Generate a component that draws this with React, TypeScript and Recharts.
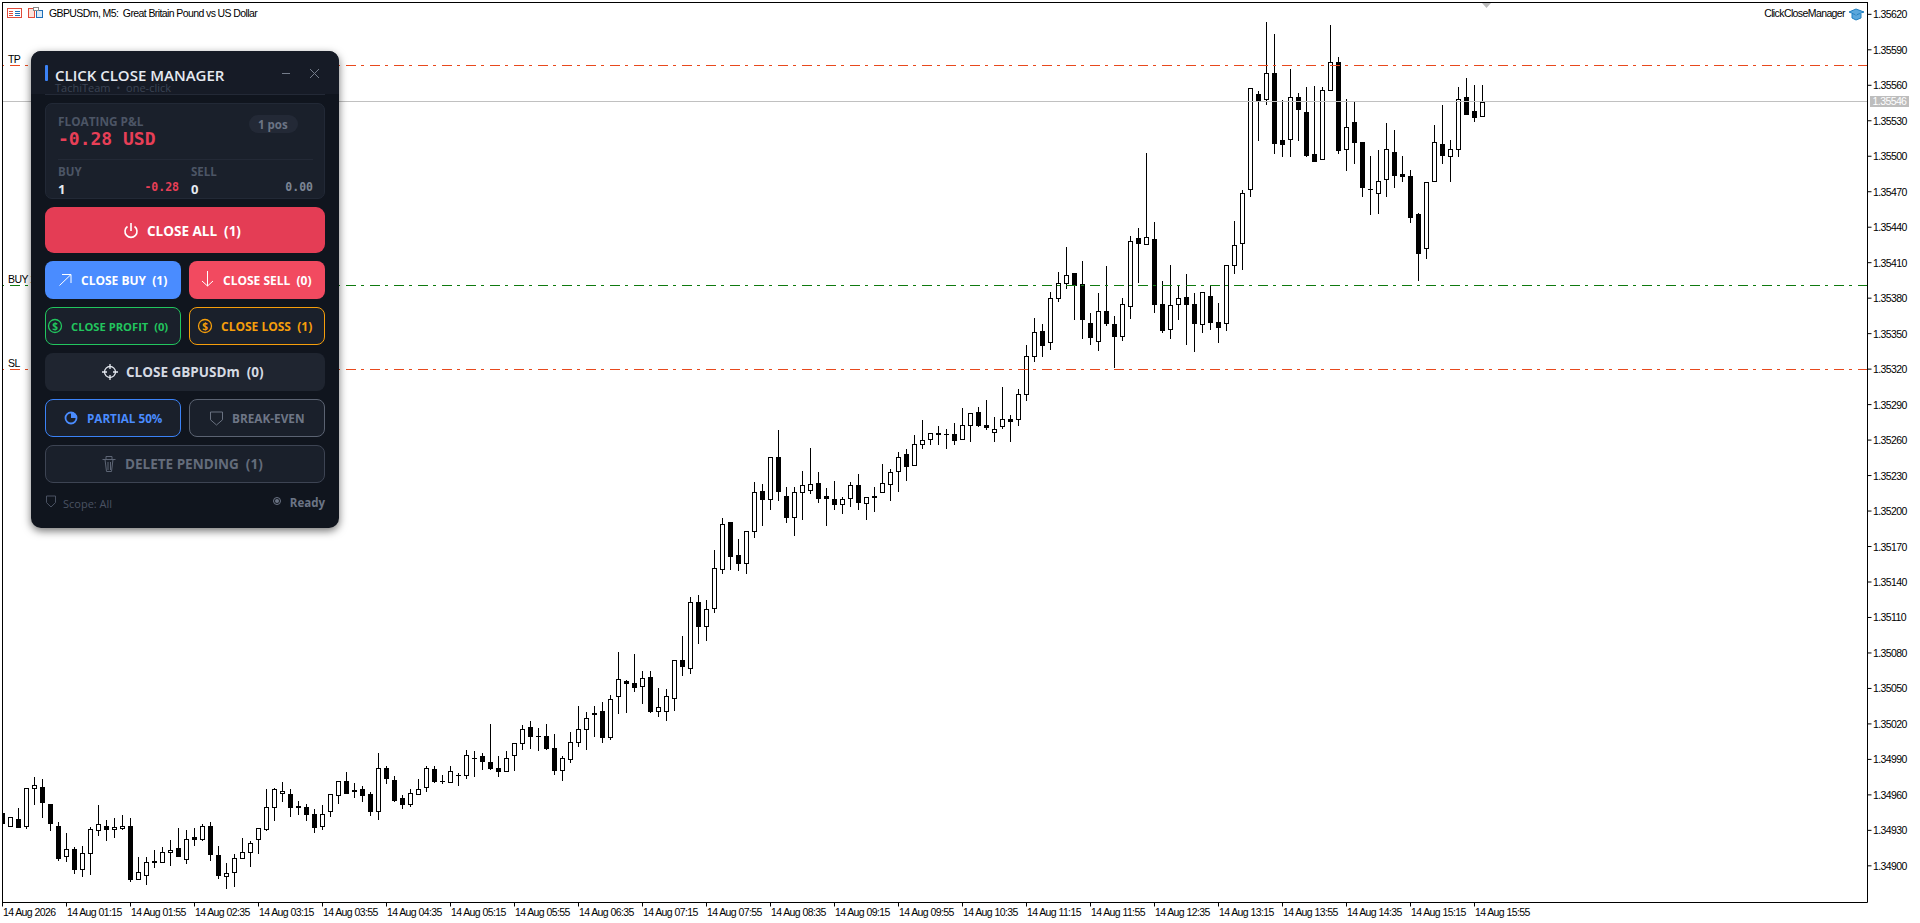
import React from 'react';
import { Bar, ComposedChart, ReferenceLine, XAxis, YAxis } from 'recharts';

const opens = [
  1.34945,1.34934,1.34940,1.34934,1.34966,1.34967,1.34952,1.34934,1.34908,1.34914,
  1.34897,1.34911,1.34930,1.34934,1.34931,1.34932,1.34934,1.34889,1.34892,1.34904,
  1.34903,1.34912,1.34915,1.34906,1.34924,1.34923,1.34934,1.34909,1.34891,1.34895,
  1.34907,1.34912,1.34923,1.34931,1.34950,1.34962,1.34961,1.34950,1.34950,1.34944,
  1.34934,1.34946,1.34960,1.34972,1.34963,1.34965,1.34961,1.34946,1.34983,1.34973,
  1.34957,1.34952,1.34961,1.34967,1.34982,1.34972,1.34971,1.34977,1.34977,1.34991,
  1.34993,1.34988,1.34983,1.34980,1.34994,1.35004,1.35017,1.35010,1.35010,1.35000,
  1.34981,1.34990,1.35005,1.35016,1.35029,1.35031,1.35009,1.35044,1.35056,1.35055,
  1.35052,1.35060,1.35031,1.35031,1.35042,1.35074,1.35067,1.35123,1.35103,1.35118,
  1.35151,1.35191,1.35163,1.35156,1.35183,1.35217,1.35210,1.35246,1.35213,1.35195,
  1.35216,1.35218,1.35224,1.35213,1.35210,1.35206,1.35211,1.35222,1.35207,1.35212,
  1.35216,1.35223,1.35234,1.35248,1.35239,1.35257,1.35261,1.35266,1.35265,1.35265,
  1.35261,1.35273,1.35284,1.35273,1.35267,1.35272,1.35278,1.35278,1.35299,1.35331,
  1.35352,1.35343,1.35380,1.35393,1.35401,1.35392,1.35359,1.35344,1.35369,1.35358,
  1.35348,1.35373,1.35431,1.35426,1.35430,1.35375,1.35354,1.35375,1.35381,1.35375,
  1.35358,1.35382,1.35360,1.35359,1.35408,1.35427,1.35472,1.35553,1.35548,1.35570,
  1.35514,1.35515,1.35550,1.35537,1.35502,1.35498,1.35556,1.35580,1.35506,1.35529,
  1.35512,1.35472,1.35469,1.35481,1.35504,1.35485,1.35483,1.35451,1.35422,1.35479,
  1.35510,1.35500,1.35506,1.35550,1.35538,1.35534,
];
const highs = [
  1.34945,1.34942,1.34950,1.34966,1.34976,1.34974,1.34952,1.34938,1.34929,1.34917,
  1.34918,1.34934,1.34952,1.34940,1.34941,1.34944,1.34941,1.34908,1.34908,1.34914,
  1.34917,1.34923,1.34933,1.34931,1.34933,1.34936,1.34938,1.34918,1.34903,1.34911,
  1.34924,1.34922,1.34932,1.34966,1.34967,1.34972,1.34966,1.34956,1.34953,1.34949,
  1.34952,1.34961,1.34973,1.34980,1.34971,1.34968,1.34963,1.34996,1.34985,1.34977,
  1.34961,1.34966,1.34974,1.34985,1.34985,1.34978,1.34985,1.34979,1.34999,1.34998,
  1.34996,1.35021,1.34994,1.34998,1.35005,1.35020,1.35023,1.35017,1.35021,1.35012,
  1.34994,1.35014,1.35036,1.35031,1.35036,1.35039,1.35045,1.35082,1.35058,1.35080,
  1.35066,1.35066,1.35051,1.35050,1.35074,1.35095,1.35128,1.35130,1.35126,1.35168,
  1.35195,1.35191,1.35177,1.35183,1.35225,1.35224,1.35246,1.35269,1.35221,1.35221,
  1.35235,1.35254,1.35234,1.35220,1.35226,1.35213,1.35225,1.35232,1.35213,1.35221,
  1.35241,1.35236,1.35251,1.35253,1.35265,1.35278,1.35266,1.35273,1.35270,1.35275,
  1.35288,1.35283,1.35289,1.35295,1.35280,1.35306,1.35282,1.35304,1.35341,1.35364,
  1.35359,1.35386,1.35403,1.35424,1.35401,1.35412,1.35368,1.35385,1.35408,1.35366,
  1.35381,1.35433,1.35440,1.35504,1.35445,1.35395,1.35409,1.35392,1.35401,1.35385,
  1.35385,1.35391,1.35377,1.35408,1.35446,1.35472,1.35558,1.35556,1.35614,1.35604,
  1.35548,1.35575,1.35554,1.35559,1.35560,1.35559,1.35612,1.35585,1.35549,1.35547,
  1.35512,1.35501,1.35506,1.35529,1.35523,1.35501,1.35489,1.35453,1.35478,1.35527,
  1.35544,1.35515,1.35559,1.35567,1.35561,1.35561,
];
const lows = [
  1.34936,1.34934,1.34933,1.34932,1.34952,1.34941,1.34930,1.34905,1.34904,1.34894,
  1.34891,1.34893,1.34926,1.34922,1.34924,1.34931,1.34887,1.34889,1.34885,1.34899,
  1.34903,1.34901,1.34908,1.34902,1.34918,1.34922,1.34905,1.34890,1.34881,1.34883,
  1.34907,1.34900,1.34911,1.34930,1.34939,1.34955,1.34942,1.34944,1.34939,1.34929,
  1.34931,1.34942,1.34953,1.34962,1.34958,1.34955,1.34943,1.34940,1.34970,1.34955,
  1.34949,1.34951,1.34961,1.34963,1.34971,1.34970,1.34971,1.34968,1.34974,1.34976,
  1.34982,1.34982,1.34976,1.34980,1.34981,1.34999,1.35000,1.34998,1.34999,1.34978,
  1.34973,1.34988,1.35001,1.34999,1.35010,1.35005,1.35007,1.35029,1.35030,1.35048,
  1.35038,1.35030,1.35027,1.35023,1.35032,1.35061,1.35063,1.35088,1.35091,1.35115,
  1.35148,1.35151,1.35150,1.35148,1.35178,1.35188,1.35202,1.35209,1.35191,1.35180,
  1.35193,1.35215,1.35208,1.35188,1.35202,1.35198,1.35204,1.35202,1.35193,1.35200,
  1.35216,1.35209,1.35217,1.35226,1.35239,1.35253,1.35257,1.35257,1.35253,1.35257,
  1.35261,1.35259,1.35272,1.35269,1.35259,1.35270,1.35259,1.35273,1.35294,1.35327,
  1.35331,1.35337,1.35378,1.35389,1.35362,1.35346,1.35341,1.35336,1.35357,1.35322,
  1.35345,1.35363,1.35394,1.35426,1.35368,1.35351,1.35346,1.35362,1.35341,1.35335,
  1.35351,1.35354,1.35343,1.35353,1.35401,1.35405,1.35466,1.35514,1.35544,1.35503,
  1.35500,1.35500,1.35514,1.35500,1.35496,1.35498,1.35556,1.35503,1.35488,1.35494,
  1.35466,1.35451,1.35452,1.35466,1.35474,1.35479,1.35444,1.35395,1.35414,1.35479,
  1.35494,1.35479,1.35500,1.35536,1.35530,1.35534,
];
const closes = [
  1.34936,1.34941,1.34933,1.34966,1.34968,1.34954,1.34936,1.34907,1.34914,1.34897,
  1.34911,1.34931,1.34935,1.34931,1.34933,1.34934,1.34889,1.34895,1.34903,1.34903,
  1.34912,1.34913,1.34908,1.34923,1.34923,1.34934,1.34910,1.34892,1.34894,1.34907,
  1.34912,1.34919,1.34932,1.34950,1.34965,1.34963,1.34950,1.34951,1.34944,1.34933,
  1.34944,1.34961,1.34972,1.34962,1.34964,1.34960,1.34946,1.34983,1.34974,1.34956,
  1.34952,1.34962,1.34965,1.34983,1.34972,1.34972,1.34980,1.34977,1.34994,1.34991,
  1.34989,1.34983,1.34980,1.34991,1.35004,1.35016,1.35010,1.35010,1.35000,1.34981,
  1.34991,1.35005,1.35016,1.35025,1.35028,1.35009,1.35041,1.35058,1.35055,1.35051,
  1.35059,1.35031,1.35034,1.35044,1.35074,1.35069,1.35123,1.35103,1.35117,1.35152,
  1.35189,1.35162,1.35156,1.35183,1.35216,1.35210,1.35246,1.35217,1.35195,1.35216,
  1.35222,1.35223,1.35211,1.35211,1.35206,1.35210,1.35222,1.35208,1.35212,1.35213,
  1.35224,1.35233,1.35246,1.35238,1.35257,1.35260,1.35266,1.35265,1.35265,1.35260,
  1.35273,1.35283,1.35273,1.35271,1.35269,1.35278,1.35276,1.35299,1.35331,1.35351,
  1.35340,1.35380,1.35393,1.35400,1.35391,1.35362,1.35347,1.35369,1.35359,1.35348,
  1.35375,1.35428,1.35427,1.35432,1.35375,1.35353,1.35374,1.35380,1.35375,1.35359,
  1.35385,1.35360,1.35356,1.35408,1.35425,1.35469,1.35558,1.35547,1.35570,1.35511,
  1.35510,1.35550,1.35540,1.35501,1.35496,1.35556,1.35580,1.35505,1.35525,1.35512,
  1.35474,1.35472,1.35479,1.35506,1.35484,1.35483,1.35449,1.35418,1.35478,1.35512,
  1.35501,1.35506,1.35548,1.35536,1.35533,1.35546,
];

const timeLabels = [
  '14 Aug 2026', '14 Aug 01:15', '14 Aug 01:55', '14 Aug 02:35', '14 Aug 03:15', '14 Aug 03:55',
  '14 Aug 04:35', '14 Aug 05:15', '14 Aug 05:55', '14 Aug 06:35', '14 Aug 07:15', '14 Aug 07:55',
  '14 Aug 08:35', '14 Aug 09:15', '14 Aug 09:55', '14 Aug 10:35', '14 Aug 11:15', '14 Aug 11:55',
  '14 Aug 12:35', '14 Aug 13:15', '14 Aug 13:55', '14 Aug 14:35', '14 Aug 15:15', '14 Aug 15:55',
];
const timeTicks = [0, 8, 16, 24, 32, 40, 48, 56, 64, 72, 80, 88, 96, 104, 112, 120, 128, 136, 144, 152, 160, 168, 176, 184];
const priceTicks = [
  1.349, 1.3493, 1.3496, 1.3499, 1.3502, 1.3505, 1.3508, 1.3511, 1.3514, 1.3517, 1.352, 1.3523, 1.3526,
  1.3529, 1.3532, 1.3535, 1.3538, 1.3541, 1.3544, 1.3547, 1.355, 1.3553, 1.3556, 1.3559, 1.3562,
];

const tpPrice = 1.35577;
const bidPrice = 1.35546;
const buyPrice = 1.35391;
const slPrice = 1.3532;

const axisFont = '"Liberation Sans", sans-serif';
const uiFont = '"Open Sans", "Noto Sans", sans-serif';
const monoFont = '"DejaVu Sans Mono", monospace';
const axisText = { fontFamily: axisFont, fontSize: 10.5, letterSpacing: -0.6 };

const data = opens.map((open, i) => ({ idx: i, open, high: highs[i], low: lows[i], close: closes[i] }));

function Candle(props: any) {
  const { x, width, y, height, payload } = props;
  const cx = x + width / 2;
  const top = Math.min(y, y + height);
  const scale = Math.abs(height) / (payload.high - payload.low);
  const priceY = (p: number) => Math.round(top + (payload.high - p) * scale) + 0.5;
  const bodyTop = priceY(Math.max(payload.open, payload.close));
  const bodyBottom = priceY(Math.min(payload.open, payload.close));
  const falling = payload.close < payload.open;
  return (
    <g shapeRendering="crispEdges">
      <line x1={cx} x2={cx} y1={priceY(payload.high)} y2={priceY(payload.low)} stroke="#000" />
      {bodyBottom === bodyTop ? (
        <line x1={cx - 2.5} x2={cx + 2.5} y1={bodyTop} y2={bodyTop} stroke="#000" />
      ) : (
        <rect
          x={cx - 2}
          y={bodyTop}
          width={4}
          height={bodyBottom - bodyTop}
          fill={falling ? '#000' : '#fff'}
          stroke="#000"
        />
      )}
    </g>
  );
}

function TimeTick({ x, y, payload }: any) {
  return (
    <text x={x + 0.5} y={y + 7.5} {...axisText} fill="#000">
      {timeLabels[timeTicks.indexOf(payload.value)]}
    </text>
  );
}

function PriceTick({ x, y, payload }: any) {
  return (
    <text x={x - 0.5} y={y + 4} {...axisText} fill="#000">
      {payload.value.toFixed(5)}
    </text>
  );
}

function LevelLabel({ viewBox, text }: any) {
  return (
    <text x={viewBox.x + 5.5} y={viewBox.y - 2.5} {...axisText} fill="#000">
      {text}
    </text>
  );
}

function Txt({ x, cy, size, color, weight = 400, font = uiFont, right, children }: any) {
  const style: React.CSSProperties = {
    position: 'absolute',
    top: cy,
    transform: 'translateY(-50%)',
    fontSize: size,
    color,
    fontWeight: weight,
    fontFamily: font,
    lineHeight: 1,
    whiteSpace: 'pre',
  };
  if (right !== undefined) style.right = 1920 - right;
  else style.left = x;
  return <div style={style}>{children}</div>;
}

function Box({ x, y, w, h, bg, border, radius = 8 }: any) {
  return (
    <div
      style={{
        position: 'absolute',
        left: x,
        top: y,
        width: w,
        height: h,
        boxSizing: 'border-box',
        background: bg,
        border: border ? `1px solid ${border}` : 'none',
        borderRadius: radius,
      }}
    />
  );
}

function Shield({ x, y, w, h, color }: any) {
  return (
    <path
      d={`M${x} ${y} L${x + w} ${y} L${x + w} ${y + h * 0.6} L${x + w / 2} ${y + h} L${x} ${y + h * 0.6} Z`}
      fill="none"
      stroke={color}
      strokeWidth={1}
    />
  );
}

function Coin({ cx, cy, color }: any) {
  return (
    <g>
      <circle cx={cx} cy={cy} r={6.5} fill="none" stroke={color} strokeWidth={1.3} />
      <text x={cx} y={cy + 3.5} textAnchor="middle" fontFamily={uiFont} fontWeight={700} fontSize={10} fill={color}>
        $
      </text>
    </g>
  );
}

function PanelIcons() {
  return (
    <svg width={1920} height={923} style={{ position: 'absolute', left: 0, top: 0 }}>
      <line x1={282} x2={290} y1={73.5} y2={73.5} stroke="#747c8a" />
      <path d="M310 69 L319 78 M319 69 L310 78" stroke="#747c8a" fill="none" />
      <path d="M127.5 226.5 A6 6 0 1 0 134.5 226.5 M131 223 V231" stroke="#fff" strokeWidth={1.6} fill="none" />
      <path d="M59.5 285.5 L71 274.5 M62 274.5 H71 V283" stroke="#fff" strokeWidth={1} fill="none" />
      <path d="M207.5 271 V286 M202 281 L207.5 286 L213 281" stroke="#fff" strokeWidth={1} fill="none" />
      <Coin cx={55} cy={326} color="#22c55e" />
      <Coin cx={205} cy={326} color="#f59e0b" />
      <circle cx={110} cy={372} r={5.5} fill="none" stroke="#e4e8ef" strokeWidth={1.3} />
      <path d="M110 364 V369 M110 375 V380 M102 372 H107 M113 372 H118" stroke="#e4e8ef" strokeWidth={1.3} />
      <circle cx={71} cy={418} r={5.5} fill="none" stroke="#4a8cff" strokeWidth={1.8} />
      <path d="M71 418 V412 A6 6 0 0 1 77 418 Z" fill="#4a8cff" />
      <Shield x={210.5} y={412} w={12} h={13} color="#697180" />
      <path d="M102.5 459.5 H115.5 M105 459.5 L106.5 471.5 H111.5 L113 459.5 M106 459 V456.5 H112 V459 M108 462 V470 M110.5 462 V470" stroke="#5d6575" fill="none" />
      <Shield x={46.5} y={496} w={9} h={11} color="#4a5262" />
      <circle cx={277} cy={501} r={3.5} fill="none" stroke="#6b7485" />
      <circle cx={277} cy={501} r={2} fill="#6b7485" />
    </svg>
  );
}

function Panel() {
  return (
    <div style={{ position: 'absolute', left: 0, top: 0, width: 1920, height: 923, pointerEvents: 'none' }}>
      <div
        style={{
          position: 'absolute',
          left: 31,
          top: 51,
          width: 308,
          height: 477,
          borderRadius: 10,
          background: '#10151e',
          boxShadow: '0 3px 8px rgba(0,0,0,0.55)',
          overflow: 'hidden',
        }}
      >
        <div style={{ height: 43, background: '#161b26' }} />
      </div>
      <Box x={45} y={65} w={3} h={16} bg="#3b82f6" radius={1} />
      <Txt x={55} cy={74.5} size={15} color="#e6eaf1" weight={600}>CLICK CLOSE MANAGER</Txt>
      <Txt x={55} cy={86.5} size={11} color="#3c4454">TachiTeam  •  one-click</Txt>
      <Box x={45} y={94} w={280} h={1} bg="#232936" radius={0} />

      <Box x={45} y={103} w={280} h={96} bg="#1a202b" border="#222936" radius={7} />
      <Txt x={58} cy={122} size={11.8} color="#4c5565" weight={700}>FLOATING P&amp;L</Txt>
      <Txt x={58} cy={138.5} size={18} color="#e83f57" weight={700} font={monoFont}>-0.28 USD</Txt>
      <Box x={249} y={115} w={49} h={18} bg="#232936" radius={9} />
      <Txt x={258} cy={125} size={11.5} color="#6b7485" weight={700}>1 pos</Txt>
      <Box x={58} y={159} w={255} h={1} bg="#232936" radius={0} />
      <Txt x={58} cy={172} size={11.5} color="#4c5565" weight={700}>BUY</Txt>
      <Txt x={191} cy={172} size={11.5} color="#4c5565" weight={700}>SELL</Txt>
      <Txt x={58} cy={189} size={13} color="#e6eaf1" weight={700}>1</Txt>
      <Txt x={191} cy={189} size={13} color="#e6eaf1" weight={700}>0</Txt>
      <Txt right={179} cy={187.5} size={11.5} color="#e83f57" weight={700} font={monoFont}>-0.28</Txt>
      <Txt right={313} cy={187.5} size={11.5} color="#7c8594" weight={700} font={monoFont}>0.00</Txt>

      <Box x={45} y={207} w={280} h={46} bg="#e43d55" radius={9} />
      <Txt x={147} cy={231.5} size={13.5} color="#fff" weight={700}>CLOSE ALL  (1)</Txt>
      <Box x={45} y={261} w={136} h={38} bg="#4a8cff" />
      <Txt x={81} cy={281} size={12} color="#fff" weight={700}>CLOSE BUY  (1)</Txt>
      <Box x={189} y={261} w={136} h={38} bg="#f24a60" />
      <Txt x={223} cy={281} size={12} color="#fff" weight={700}>CLOSE SELL  (0)</Txt>

      <Box x={45} y={307} w={136} h={38} bg="#1a202b" border="#22c55e" />
      <Txt x={71} cy={327} size={11.2} color="#22c55e" weight={700}>CLOSE PROFIT  (0)</Txt>
      <Box x={189} y={307} w={136} h={38} bg="#1a202b" border="#f59e0b" />
      <Txt x={221} cy={327} size={12} color="#f59e0b" weight={700}>CLOSE LOSS  (1)</Txt>

      <Box x={45} y={353} w={280} h={38} bg="#1f2530" />
      <Txt x={126} cy={373} size={13.5} color="#d5dae3" weight={700}>CLOSE GBPUSDm  (0)</Txt>

      <Box x={45} y={399} w={136} h={38} bg="#1a202b" border="#3b82f6" />
      <Txt x={87} cy={419} size={11.7} color="#4a8cff" weight={700}>PARTIAL 50%</Txt>
      <Box x={189} y={399} w={136} h={38} bg="#1a202b" border="#5b6372" />
      <Txt x={232} cy={419} size={11.8} color="#6e7686" weight={700}>BREAK-EVEN</Txt>

      <Box x={45} y={445} w={280} h={38} bg="#1a202b" border="#3d4453" />
      <Txt x={125} cy={465} size={13.5} color="#646c7b" weight={700}>DELETE PENDING  (1)</Txt>

      <Txt x={63} cy={502.5} size={11} color="#4a5262">Scope: All</Txt>
      <Txt right={325} cy={502.5} size={11.5} color="#6b7485" weight={700}>Ready</Txt>
      <PanelIcons />
    </div>
  );
}

function ChartHeader() {
  return (
    <div style={{ position: 'absolute', left: 0, top: 0, width: 1920, height: 923, pointerEvents: 'none' }}>
      <div style={{ position: 'absolute', left: 2, top: 2, width: 1866, height: 901, boxSizing: 'border-box', borderTop: '1px solid #000', borderLeft: '1px solid #000' }} />
      <svg width={1920} height={30} style={{ position: 'absolute', left: 0, top: 0 }} shapeRendering="crispEdges">
        <rect x={7.5} y={8.5} width={14} height={9} fill="#fff" stroke="#e04b3a" />
        <path d="M9 11 H13 M9 13 H13 M9 15 H13" stroke="#e04b3a" />
        <path d="M15 11 H20 M15 13 H20 M15 15 H20" stroke="#1d6fb8" />
        <rect x={28.5} y={8.5} width={6} height={9} fill="#fbe4dc" stroke="#e04b3a" />
        <rect x={36.5} y={10.5} width={6} height={7} fill="#dceaf6" stroke="#1d6fb8" />
        <rect x={33.5} y={7.5} width={5} height={3} fill="#fff" stroke="#8a8a8a" />
        <path d="M1482 3 H1491 L1486.5 8 Z" fill="#bbb" shapeRendering="auto" />
        <path d="M1849 12 L1856 9 L1864 12 L1856 15 Z M1852 14 V18 L1856 20 L1861 18 V14" fill="#5aa7dc" stroke="#1f7fc0" shapeRendering="auto" />
      </svg>
      <div style={{ position: 'absolute', left: 49, top: 7, ...axisText, lineHeight: '13px', whiteSpace: 'pre' }}>
        GBPUSDm, M5:  Great Britain Pound vs US Dollar
      </div>
      <div style={{ position: 'absolute', right: 1920 - 1845, top: 7, ...axisText, lineHeight: '13px' }}>
        ClickCloseManager
      </div>
      <div style={{ position: 'absolute', left: 1870, top: 96, width: 39, height: 11, background: '#bdbdbd', color: '#fff', ...axisText, lineHeight: '11px', textAlign: 'center' }}>
        {bidPrice.toFixed(5)}
      </div>
    </div>
  );
}

export default function App() {
  return (
    <div style={{ position: 'absolute', left: 0, top: 0, width: 1920, height: 923, background: '#fff', overflow: 'hidden' }}>
      <ComposedChart
        width={1920}
        height={923}
        data={data}
        margin={{ top: 2.5, right: 0, left: 2.5, bottom: 0 }}
      >
        <XAxis
          dataKey="idx"
          type="number"
          domain={[0, 233.125]}
          allowDataOverflow
          ticks={timeTicks}
          height={20.5}
          interval={0}
          stroke="#000"
          tickSize={4}
          tickLine={{ stroke: '#000' }}
          tick={<TimeTick />}
        />
        <YAxis
          orientation="right"
          domain={[1.34869, 1.3563]}
          allowDataOverflow
          ticks={priceTicks}
          width={52.5}
          interval={0}
          stroke="#000"
          tickSize={4}
          tickLine={{ stroke: '#000' }}
          tick={<PriceTick />}
        />
        <ReferenceLine y={tpPrice} stroke="#e8491d" strokeDasharray="10 6 3 5" shapeRendering="crispEdges" label={<LevelLabel text="TP" />} />
        <ReferenceLine y={bidPrice} stroke="#c0c0c0" shapeRendering="crispEdges" />
        <ReferenceLine y={buyPrice} stroke="#0f7a0f" strokeDasharray="10 6 3 5" shapeRendering="crispEdges" label={<LevelLabel text="BUY 1" />} />
        <ReferenceLine y={slPrice} stroke="#e8491d" strokeDasharray="10 6 3 5" shapeRendering="crispEdges" label={<LevelLabel text="SL" />} />
        <Bar dataKey={(d: any) => [d.low, d.high]} barSize={5} shape={<Candle />} isAnimationActive={false} />
      </ComposedChart>
      <ChartHeader />
      <Panel />
    </div>
  );
}
